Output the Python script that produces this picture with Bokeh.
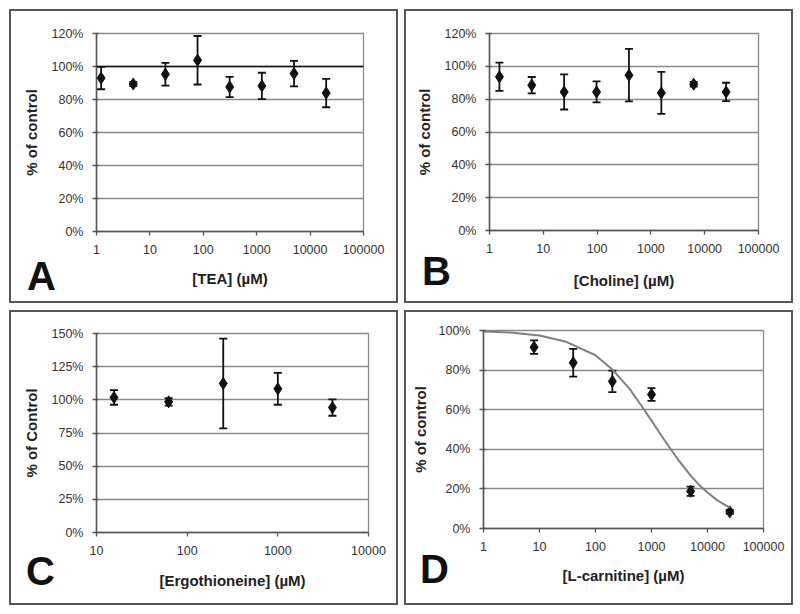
from bokeh.plotting import figure
from bokeh.models import (ColumnDataSource, Whisker, TeeHead, Span,
                          PrintfTickFormatter, FixedTicker, Spacer, Div,
                          GridBox)
from bokeh.layouts import column, row
from bokeh.embed import file_html
from bokeh.resources import INLINE
import numpy as np

# ---------------- data ----------------
tea_x = [1.22, 4.88, 19.5, 78, 312, 1250, 5000, 20000]
tea_y = [93.0, 89.4, 95.3, 103.8, 87.6, 88.2, 95.7, 83.9]
tea_err = [6.8, 1.3, 6.9, 14.7, 6.1, 8.0, 7.7, 8.6]

choline_x = [1.53, 6.1, 24.4, 97.7, 391, 1563, 6250, 25000]
choline_y = [93.6, 88.5, 84.4, 84.4, 94.6, 83.8, 89.1, 84.4]
choline_err = [8.6, 5.0, 10.7, 6.4, 16.0, 12.8, 1.4, 5.6]

ergo_x = [15.6, 62.5, 250, 1000, 4000]
ergo_y = [101.8, 98.5, 112.3, 108.3, 94.2]
ergo_err = [5.5, 2.8, 33.8, 12.0, 6.2]

carn_x = [8, 40, 200, 1000, 5000, 25000]
carn_y = [91.6, 83.7, 74.3, 67.7, 18.8, 8.4]
carn_err = [3.4, 7.0, 5.4, 3.2, 2.3, 1.0]

fit_x = [1, 3, 10, 30, 100, 200, 400, 700, 1000, 1500, 2000, 3000, 5000,
         7500, 10000, 15000, 25000]
fit_y = [99.5, 99.0, 97.5, 94.3, 87.5, 80.3, 70.8, 61.0, 54.5, 47.0, 41.8,
         34.7, 26.7, 21.3, 18.2, 14.2, 10.5]

x_ticks_wide = [1, 10, 100, 1000, 10000, 100000]
x_ticks_c = [10, 100, 1000, 10000]
y_ticks_120 = [0, 20, 40, 60, 80, 100, 120]
y_ticks_150 = [0, 25, 50, 75, 100, 125, 150]
y_ticks_100 = [0, 20, 40, 60, 80, 100]

panel_letters = ["A", "B", "C", "D"]

FONT = "Liberation Sans"
TXT = "#222222"


def make_panel(xs, ys, errs, xrange, yrange, xticks, yticks, xlabel, ylabel,
               borders, ylab_standoff, xlab_standoff, height):
    bl, br, bt, bb = borders
    p = figure(width=389, height=height, x_axis_type="log",
               x_range=xrange, y_range=yrange,
               output_backend="svg", toolbar_location=None,
               min_border_left=bl, min_border_right=br,
               min_border_top=bt, min_border_bottom=bb,
               background_fill_color="white", border_fill_color=None,
               outline_line_color="#8a8a8a", outline_line_width=1.3,
               styles={"box-shadow": "inset 0 0 0 2px #555555",
                       "background-color": "white"})
    p.xgrid.visible = False
    p.ygrid.grid_line_color = "#8a8a8a"
    p.ygrid.grid_line_width = 1.3
    p.ygrid.ticker = FixedTicker(ticks=yticks)

    p.xaxis.ticker = FixedTicker(ticks=xticks)
    p.xaxis.formatter = PrintfTickFormatter(format="%d")
    p.yaxis.ticker = FixedTicker(ticks=yticks)
    p.yaxis.formatter = PrintfTickFormatter(format="%d%%")

    for ax in (p.xaxis[0], p.yaxis[0]):
        ax.axis_line_color = "#555555"
        ax.axis_line_width = 1.5
        ax.major_tick_line_color = "#555555"
        ax.major_tick_line_width = 1.3
        ax.major_tick_out = 4
        ax.major_tick_in = 2
        ax.minor_tick_line_color = None
        ax.major_label_text_font = FONT
        ax.major_label_text_font_size = "12.5px"
        ax.major_label_text_color = "#333333"
        ax.axis_label_text_font = FONT
        ax.axis_label_text_font_style = "bold"
        ax.axis_label_text_font_size = "15px"
        ax.axis_label_text_color = TXT
    p.xaxis.major_tick_in = 0
    p.xaxis.major_label_standoff = 9
    p.yaxis.major_label_standoff = 9
    p.xaxis.axis_label = xlabel
    p.yaxis.axis_label = ylabel
    p.xaxis.axis_label_standoff = xlab_standoff
    p.yaxis.axis_label_standoff = ylab_standoff

    xs_a = np.array(xs, dtype=float)
    ys_a = np.array(ys, dtype=float)
    er_a = np.array(errs, dtype=float)
    src = ColumnDataSource(dict(x=xs_a, y=ys_a, lower=ys_a - er_a,
                                upper=ys_a + er_a))
    wh = Whisker(source=src, base="x", lower="lower", upper="upper",
                 dimension="height", line_color="#111111", line_width=1.8,
                 upper_head=TeeHead(size=8, line_color="#111111",
                                    line_width=1.8),
                 lower_head=TeeHead(size=8, line_color="#111111",
                                    line_width=1.8))
    p.add_layout(wh)
    p.scatter("x", "y", source=src, marker="diamond", size=12,
              fill_color="#111111", line_color="#111111")
    return p


def boxed(p, letter, left, top):
    d = Div(text=letter, width=44, height=40, align="start",
            margin=(top, 0, 0, left),
            styles={"font-family": FONT, "font-size": "40px",
                    "font-weight": "bold", "line-height": "40px",
                    "color": "#111111"})
    return GridBox(children=[(p, 0, 0), (d, 0, 0)])


pA = make_panel(tea_x, tea_y, tea_err, (1, 100000), (0, 120), x_ticks_wide,
                y_ticks_120, "[TEA] (µM)", "% of control",
                (87, 35, 24, 72), 9, 13, 294)
pA.add_layout(Span(location=100, dimension="width", line_color="#111111",
                   line_width=1.5))

pB = make_panel(choline_x, choline_y, choline_err, (1, 100000), (0, 120),
                x_ticks_wide, y_ticks_120, "[Choline] (µM)", "% of control",
                (85, 35, 24, 73), 9, 16, 294)

pC = make_panel(ergo_x, ergo_y, ergo_err, (10, 10000), (0, 150), x_ticks_c,
                y_ticks_150, "[Ergothioneine] (µM)", "% of Control",
                (87, 30, 23, 73), 9, 14, 295)

pD = make_panel(carn_x, carn_y, carn_err, (1, 100000), (0, 100),
                x_ticks_wide, y_ticks_100, "[L-carnitine] (µM)",
                "% of control", (79, 30, 20, 77), 7, 13, 295)
pD.line(fit_x, fit_y, line_color="#808080", line_width=2)

bA = boxed(pA, panel_letters[0], 18, 247)
bB = boxed(pB, panel_letters[1], 18, 242)
bC = boxed(pC, panel_letters[2], 17, 241)
bD = boxed(pD, panel_letters[3], 16, 239)

grid = column(row(bA, bB, spacing=6), row(bC, bD, spacing=6), spacing=7)
layout = column(Spacer(height=9), row(Spacer(width=9), grid, spacing=0),
                spacing=0)

open("out.html", "w").write(file_html(layout, INLINE))
